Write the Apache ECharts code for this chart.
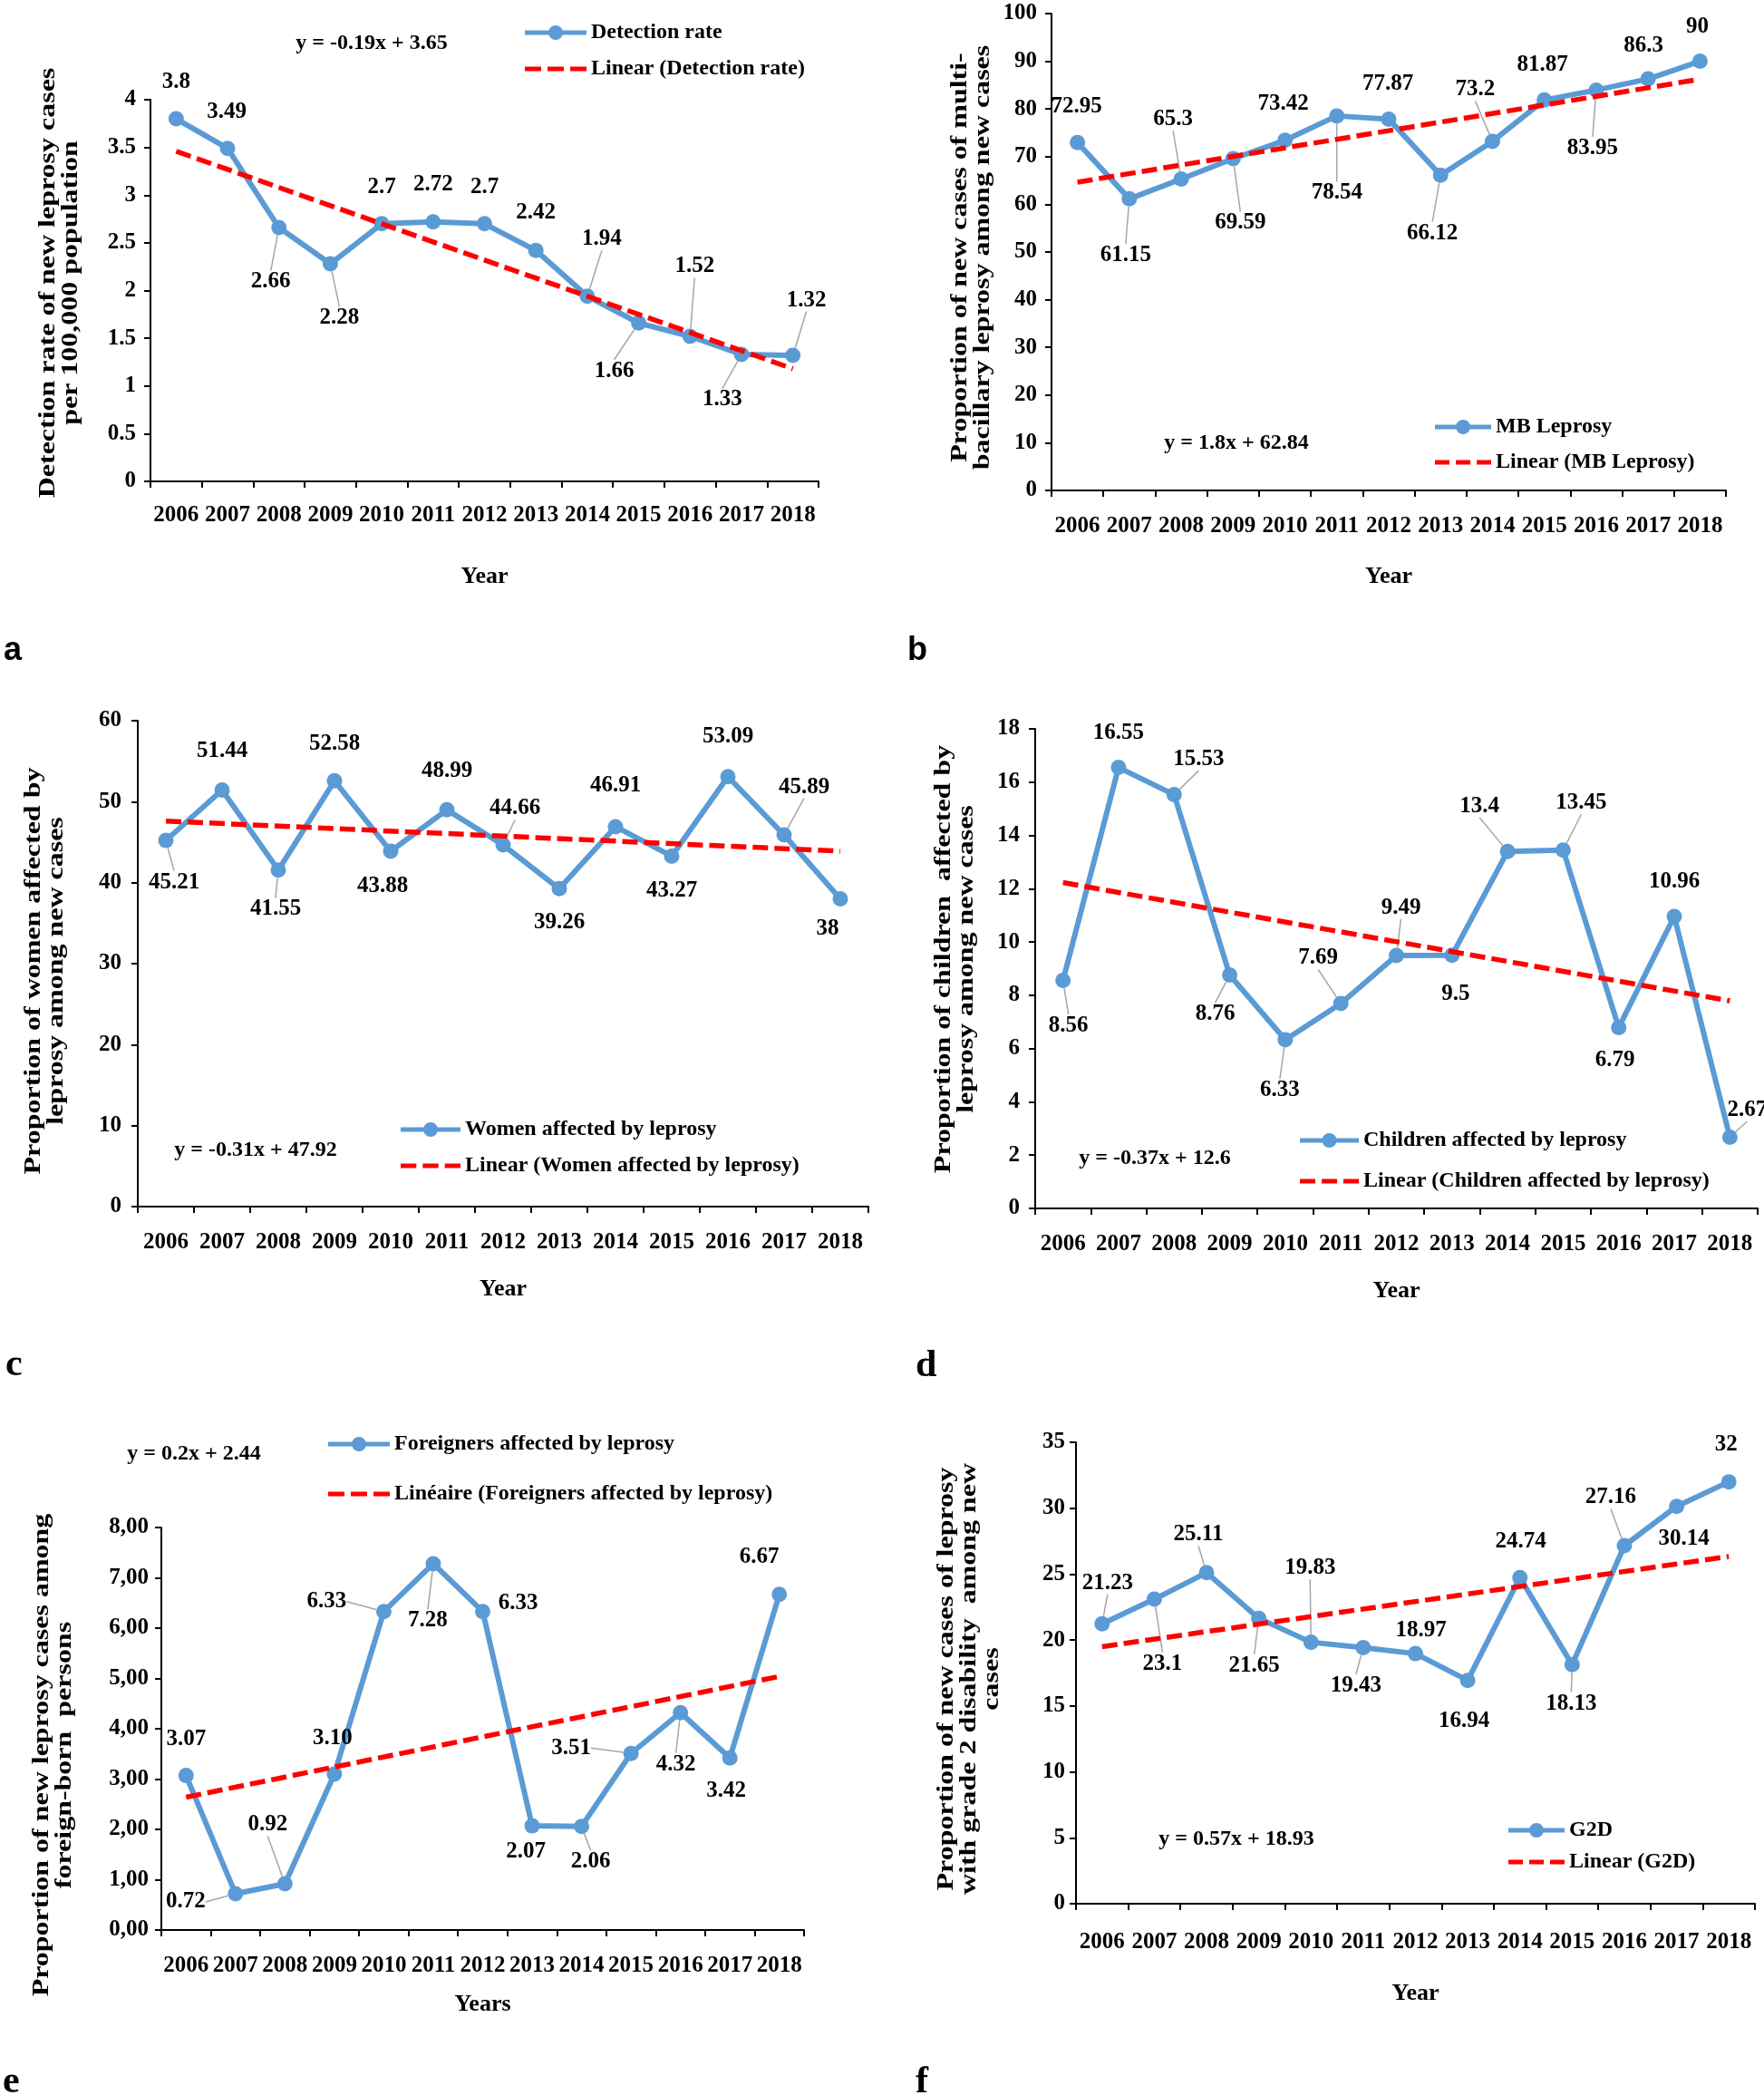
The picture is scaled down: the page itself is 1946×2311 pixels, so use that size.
<!DOCTYPE html>
<html><head><meta charset="utf-8">
<script src="https://cdn.jsdelivr.net/npm/echarts@6/dist/echarts.min.js"></script>
<style>html,body{margin:0;padding:0;background:#fff}#c{width:1946px;height:2311px}</style>
</head><body><div id="c"></div>
<script>
// ---------------- DATA ----------------
const years = ['2006','2007','2008','2009','2010','2011','2012','2013','2014','2015','2016','2017','2018'];
const detectionRate = [3.8, 3.49, 2.66, 2.28, 2.7, 2.72, 2.7, 2.42, 1.94, 1.66, 1.52, 1.33, 1.32];
const mbLeprosy = [72.95, 61.15, 65.3, 69.59, 73.42, 78.54, 77.87, 66.12, 73.2, 81.87, 83.95, 86.3, 90];
const womenAffected = [45.21, 51.44, 41.55, 52.58, 43.88, 48.99, 44.66, 39.26, 46.91, 43.27, 53.09, 45.89, 38];
const childrenAffected = [8.56, 16.55, 15.53, 8.76, 6.33, 7.69, 9.49, 9.5, 13.4, 13.45, 6.79, 10.96, 2.67];
const foreignersAffected = [3.07, 0.72, 0.92, 3.10, 6.33, 7.28, 6.33, 2.07, 2.06, 3.51, 4.32, 3.42, 6.67];
const g2d = [21.23, 23.1, 25.11, 21.65, 19.83, 19.43, 18.97, 16.94, 24.74, 18.13, 27.16, 30.14, 32];

// trend line end points (2006, 2018)
const trendDetection = [3.46, 1.18];
const trendMB = [64.64, 86.24];
const trendWomen = [47.61, 43.89];
const trendChildren = [12.23, 7.79];
const trendForeigners = [2.64, 5.04];
const trendG2D = [19.50, 26.34];

const equations = ['y = -0.19x + 3.65', 'y = 1.8x + 62.84', 'y = -0.31x + 47.92', 'y = -0.37x + 12.6', 'y = 0.2x + 2.44', 'y = 0.57x + 18.93'];

// ---------------- STYLE / LAYOUT ----------------
const FONT = 'Liberation Serif';
const BLUE = '#5B9BD5';
const RED = '#FF0000';

const panels = [
  { values: detectionRate, trend: trendDetection, name: 'Detection rate', trendName: 'Linear (Detection rate)',
    grid: {left:166, top:110, width:737, height:421}, yMax: 4, yInt: 0.5, yMargin: 16, xMargin: 25, xName: 'Year', xGap: 92,
    yName: ['Detection rate of new leprosy cases', 'per 100,000 population'], yNamePos: [66, 312],
    eq: equations[0], eqPos: [410, 48],
    legend: {left: 574, top: 19, gap: 16, w: 68},
    letter: 'a', letterPos: [4, 718], letterFont: 'bold 36px "Liberation Sans"',
    offsets: [[0,-41],[-1,-40],[-9,60],[10,60],[0,-40],[0,-41],[0,-40],[0,-42],[16,-63],[-27,53],[5,-77],[-21,50],[15,-61]],
    leaders: [0,0,1,1,0,0,0,0,1,1,1,1,1] },
  { values: mbLeprosy, trend: trendMB, name: 'MB Leprosy', trendName: 'Linear (MB Leprosy)',
    grid: {left:1160, top:15, width:744, height:526}, yMax: 100, yInt: 10, yMargin: 16, xMargin: 27, xName: 'Year', xGap: 82,
    yName: ['Proportion of new cases of multi-', 'bacillary leprosy among new cases'], yNamePos: [1072, 284],
    eq: equations[1], eqPos: [1364, 489],
    legend: {left: 1578, top: 454, gap: 15, w: 62},
    letter: 'b', letterPos: [1001, 718], letterFont: 'bold 36px "Liberation Sans"',
    offsets: [[-1,-40],[-4,62],[-9,-66],[8,71],[-2,-40],[0,85],[-1,-39],[-9,64],[-19,-57],[-2,-39],[-4,64],[-5,-37],[-3,-38]],
    leaders: [0,1,1,1,0,1,0,1,1,0,1,0,0] },
  { values: womenAffected, trend: trendWomen, name: 'Women affected by leprosy', trendName: 'Linear (Women affected by leprosy)',
    grid: {left:152, top:795, width:806, height:536}, yMax: 60, yInt: 10, yMargin: 18, xMargin: 27, xName: 'Year', xGap: 78,
    yName: ['Proportion of women affected by', 'leprosy among new cases'], yNamePos: [50, 1071],
    eq: equations[2], eqPos: [282, 1269],
    legend: {left: 437, top: 1229, gap: 16, w: 66},
    letter: 'c', letterPos: [6, 1506], letterFont: 'bold 42px "Liberation Serif"',
    offsets: [[9,46],[0,-43],[-3,43],[0,-41],[-9,39],[0,-43],[13,-40],[0,37],[0,-45],[0,38],[0,-44],[22,-53],[-14,33]],
    leaders: [1,0,1,0,0,0,1,0,0,0,0,1,0] },
  { values: childrenAffected, trend: trendChildren, name: 'Children affected by leprosy', trendName: 'Linear (Children affected by leprosy)',
    grid: {left:1142, top:804, width:797, height:529}, yMax: 18, yInt: 2, yMargin: 17, xMargin: 27, xName: 'Year', xGap: 78,
    yName: ['Proportion of children  affected by', 'leprosy among new cases'], yNamePos: [1054, 1058],
    eq: equations[3], eqPos: [1274, 1278],
    legend: {left: 1429, top: 1241, gap: 21, w: 65},
    letter: 'd', letterPos: [1010, 1507], letterFont: 'bold 42px "Liberation Serif"',
    offsets: [[6,50],[0,-38],[27,-39],[-16,43],[-6,56],[-25,-50],[5,-53],[4,43],[-31,-50],[20,-52],[-4,36],[0,-38],[19,-30]],
    leaders: [1,0,1,1,1,1,1,0,1,1,0,0,1] },
  { values: foreignersAffected, trend: trendForeigners, name: 'Foreigners affected by leprosy', trendName: 'Linéaire (Foreigners affected by leprosy)',
    grid: {left:178, top:1685, width:709, height:444}, yMax: 8, yInt: 1, yMargin: 14, xMargin: 27, xName: 'Years', xGap: 69,
    yName: ['Proportion of new leprosy cases among', 'foreign-born  persons'], yNamePos: [59, 1936],
    eq: equations[4], eqPos: [214, 1604],
    legend: {left: 357, top: 1576, gap: 31, w: 68},
    letter: 'e', letterPos: [3, 2297], letterFont: 'bold 42px "Liberation Serif"',
    yFmt: v => v.toFixed(2).replace('.', ','), lFmt: p => p.value.toFixed(2),
    offsets: [[0,-40],[-55,9],[-19,-65],[-2,-39],[-63,-11],[-6,63],[39,-9],[-7,28],[10,39],[-66,-6],[-5,57],[-4,36],[-22,-41]],
    leaders: [0,1,1,0,1,1,0,0,1,1,1,0,0] },
  { values: g2d, trend: trendG2D, name: 'G2D', trendName: 'Linear (G2D)',
    grid: {left:1187, top:1591, width:749, height:509}, yMax: 35, yInt: 5, yMargin: 12, xMargin: 30, xName: 'Year', xGap: 86,
    yName: ['Proportion of new cases of leprosy', 'with grade 2 disability  among new', 'cases'], yNamePos: [1069, 1852],
    eq: equations[5], eqPos: [1364, 2029],
    legend: {left: 1659, top: 2002, gap: 11, w: 62},
    letter: 'f', letterPos: [1010, 2297], letterFont: 'bold 42px "Liberation Serif"',
    offsets: [[6,-45],[9,71],[-9,-42],[-5,52],[-1,-82],[-8,42],[6,-26],[-4,45],[1,-40],[-1,43],[-15,-53],[8,36],[-3,-41]],
    leaders: [1,1,1,1,1,1,0,0,0,1,1,0,0] }
];

const tickFont = {fontFamily: FONT, fontWeight: 'bold', fontSize: 25, color: '#000'};

function lineIcon(w) {
  const c = w / 2;
  return 'path://M0,5.5H' + w + 'V10.5H0Z M' + (c - 8) + ',8A8,8 0 1,1 ' + (c + 8) + ',8A8,8 0 1,1 ' + (c - 8) + ',8Z';
}
function dashIcon(w) {
  const d = (w - 14) / 3;
  let s = 'path://';
  for (let i = 0; i < 3; i++) {
    const x0 = i * (d + 7);
    s += 'M' + x0 + ',0H' + (x0 + d) + 'V5H' + x0 + 'Z ';
  }
  return s.trim();
}

const option = {
  animation: false,
  backgroundColor: '#fff',
  textStyle: {fontFamily: FONT},
  grid: [], xAxis: [], yAxis: [], series: [], legend: [], graphic: []
};

panels.forEach((p, k) => {
  option.grid.push(Object.assign({containLabel: false}, p.grid));
  option.xAxis.push({
    type: 'category', gridIndex: k, data: years, boundaryGap: true,
    name: p.xName, nameLocation: 'middle', nameGap: p.xGap,
    nameTextStyle: {fontFamily: FONT, fontWeight: 'bold', fontSize: 26, color: '#000'},
    axisLine: {lineStyle: {color: '#000', width: 2}},
    axisTick: {show: true, length: 7, alignWithLabel: false, lineStyle: {color: '#000', width: 2}},
    axisLabel: Object.assign({interval: 0, margin: p.xMargin}, tickFont),
    splitLine: {show: false}
  });
  option.yAxis.push({
    type: 'value', gridIndex: k, min: 0, max: p.yMax, interval: p.yInt,
    axisLine: {show: true, lineStyle: {color: '#000', width: 2}},
    axisTick: {show: true, length: 7, lineStyle: {color: '#000', width: 2}},
    axisLabel: Object.assign({margin: p.yMargin, formatter: p.yFmt || undefined}, tickFont),
    splitLine: {show: false}
  });
  const items = p.values.map((v, i) => ({value: v, labelLine: {show: !!p.leaders[i]}}));
  const offs = p.offsets;
  option.series.push({
    type: 'line', name: p.name, xAxisIndex: k, yAxisIndex: k, data: items,
    symbol: 'circle', symbolSize: 17, showSymbol: true,
    lineStyle: {color: BLUE, width: 6}, itemStyle: {color: BLUE},
    label: Object.assign({show: true, formatter: p.lFmt || (q => String(q.value))}, tickFont),
    labelLine: {show: false, lineStyle: {color: '#A6A6A6', width: 1.5}},
    labelLayout: function (q) {
      const o = offs[q.dataIndex];
      return {x: q.rect.x + q.rect.width / 2 + o[0], y: q.rect.y + q.rect.height / 2 + o[1], align: 'center', verticalAlign: 'middle'};
    },
    z: 2
  });
  const tdata = years.map((y, i) => i === 0 ? p.trend[0] : (i === years.length - 1 ? p.trend[1] : null));
  option.series.push({
    type: 'line', name: p.trendName, xAxisIndex: k, yAxisIndex: k, data: tdata, connectNulls: true,
    symbol: 'none', lineStyle: {color: RED, width: 5.5, type: [17, 7]}, itemStyle: {color: RED},
    silent: true, z: 3
  });
  option.legend.push({
    data: [{name: p.name, icon: lineIcon(p.legend.w)}, {name: p.trendName, icon: dashIcon(p.legend.w)}],
    orient: 'vertical', left: p.legend.left, top: p.legend.top,
    itemGap: p.legend.gap, itemWidth: p.legend.w, itemHeight: 16, symbolKeepAspect: true, selectedMode: false,
    textStyle: {fontFamily: FONT, fontWeight: 'bold', fontSize: 24, color: '#000'}
  });
  option.graphic.push({
    type: 'text', x: p.yNamePos[0], y: p.yNamePos[1], rotation: Math.PI / 2, scaleX: 1.23,
    style: {text: p.yName.join('\n'), font: 'bold 26px "Liberation Serif"', fill: '#000', align: 'center', verticalAlign: 'middle', lineHeight: 25}
  });
  option.graphic.push({
    type: 'text', x: p.eqPos[0], y: p.eqPos[1],
    style: {text: p.eq, font: 'bold 24px "Liberation Serif"', fill: '#000', align: 'center', verticalAlign: 'middle'}
  });
  option.graphic.push({
    type: 'text', x: p.letterPos[0], y: p.letterPos[1],
    style: {text: p.letter, font: p.letterFont, fill: '#000', align: 'left', verticalAlign: 'middle'}
  });
});

const chart = echarts.init(document.getElementById('c'), null, {renderer: 'canvas'});
chart.setOption(option);
</script>
</body></html>
